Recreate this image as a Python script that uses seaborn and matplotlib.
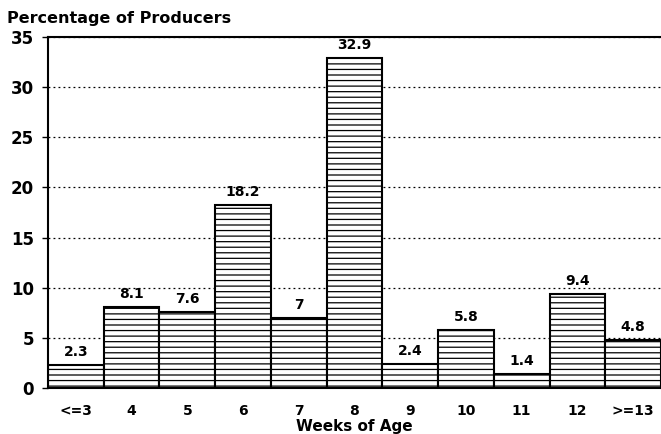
import matplotlib.pyplot as plt
import seaborn as sns
import pandas as pd

weeks = ["<=3", "4", "5", "6", "7", "8", "9", "10", "11", "12", ">=13"]
pct = [2.3, 8.1, 7.6, 18.2, 7, 32.9, 2.4, 5.8, 1.4, 9.4, 4.8]
pct_labels = ["2.3", "8.1", "7.6", "18.2", "7", "32.9", "2.4", "5.8", "1.4", "9.4", "4.8"]

df = pd.DataFrame({"weeks": weeks, "pct": pct})

sns.set_style("white")
plt.rcParams["font.family"] = ["DejaVu Sans"]
plt.rcParams["font.weight"] = "bold"
plt.rcParams["text.color"] = "black"
plt.rcParams["xtick.color"] = "black"
plt.rcParams["ytick.color"] = "black"
plt.rcParams["axes.labelcolor"] = "black"
plt.rcParams["hatch.linewidth"] = 0.9

fig = plt.figure(figsize=(6.61, 4.34), dpi=100)
ax = fig.add_axes([48 / 661, 46 / 434, 613 / 661, 351 / 434])

ax = sns.barplot(df, x="weeks", y="pct", color="white", width=1.0,
                 edgecolor="black", linewidth=1.5, ax=ax)
for p in ax.patches:
    p.set_hatch("---")

for i, (v, s) in enumerate(zip(pct, pct_labels)):
    ax.text(i, v + 0.6, s, ha="center", va="bottom", fontsize=10, fontweight="bold")

ax.set_ylim(0, 35)
ax.set_xlim(-0.5, 10.5)
ax.set_yticks(range(0, 36, 5))
ax.yaxis.grid(True, linestyle=(0, (1.5, 2.5)), color="black", linewidth=0.9)
ax.set_axisbelow(True)
for side in ["left", "bottom", "top"]:
    ax.spines[side].set_color("black")
    ax.spines[side].set_linewidth(1.5)
ax.spines["right"].set_visible(False)
ax.tick_params(axis="y", left=True, length=4, width=1, labelsize=12, pad=6)
ax.tick_params(axis="x", bottom=False, labelsize=10, pad=8)
for t in ax.get_xticklabels() + ax.get_yticklabels():
    t.set_fontweight("bold")

ax.set_xlabel("Weeks of Age", fontsize=11, fontweight="bold", labelpad=1)
ax.set_ylabel("")
fig.text(7 / 661, 1 - 18 / 434, "Percentage of Producers", fontsize=11.5,
         fontweight="bold", va="center", ha="left")

fig.savefig("out.png", dpi=100)
